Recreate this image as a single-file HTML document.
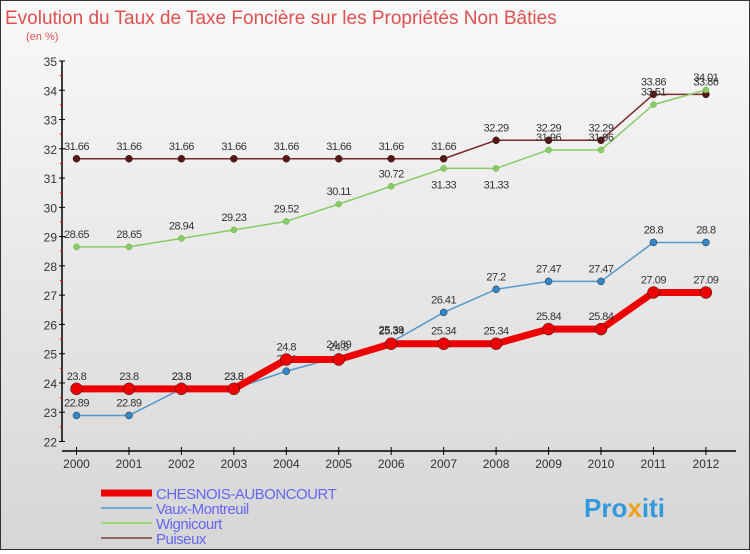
<!DOCTYPE html>
<html><head><meta charset="utf-8"><style>
body{margin:0;width:750px;height:550px;overflow:hidden}
#c{position:relative;width:748px;height:548px;border:1px solid #333;background:linear-gradient(#f9f9f9,#d6d6d6)}
svg text{font-family:"Liberation Sans",sans-serif}
</style></head><body>
<div id="c">
<svg id="s" width="748" height="548" xmlns="http://www.w3.org/2000/svg">
<text x="4" y="23" font-size="19" fill="#e05050">Evolution du Taux de Taxe Foncière sur les Propriétés Non Bâties</text>
<text x="25" y="39" font-size="11" fill="#e05050">(en %)</text>
<g id="g"></g>
<text x="583" y="516" font-size="26" font-weight="bold" fill="#3399dd">Pro<tspan fill="#f0a020">x</tspan>iti</text>
</svg></div>
<script>
const years=[2000,2001,2002,2003,2004,2005,2006,2007,2008,2009,2010,2011,2012];
const chesnois=[23.8,23.8,23.8,23.8,24.8,24.8,25.34,25.34,25.34,25.84,25.84,27.09,27.09];
const vaux=[22.89,22.89,23.8,23.8,24.4,24.89,25.39,26.41,27.2,27.47,27.47,28.8,28.8];
const wign=[28.65,28.65,28.94,29.23,29.52,30.11,30.72,31.33,31.33,31.96,31.96,33.51,34.01];
const puis=[31.66,31.66,31.66,31.66,31.66,31.66,31.66,31.66,32.29,32.29,32.29,33.86,33.86];
const yTicks=[22,23,24,25,26,27,28,29,30,31,32,33,34,35];
const names=["CHESNOIS-AUBONCOURT","Vaux-Montreuil","Wignicourt","Puiseux"];
const NS="http://www.w3.org/2000/svg",g=document.getElementById('g');
const X=i=>75.5+i*52.45, Y=v=>440.5-(v-22)*29.27;
function mk(t,a,p){const e=document.createElementNS(NS,t);for(const k in a)e.setAttribute(k,a[k]);(p||g).appendChild(e);return e;}
let ax=mk('line',{x1:61,y1:60,x2:61,y2:441,stroke:'#000','stroke-width':1.5});


yTicks.forEach(v=>{mk('line',{x1:58,x2:64,y1:Y(v),y2:Y(v),stroke:'#000'});
 if(v<35)mk('line',{x1:59,x2:62,y1:Y(v+0.5),y2:Y(v+0.5),stroke:'#e00'});
 let t=mk('text',{x:56,y:Y(v)+5,'text-anchor':'end','font-size':12,fill:'#333'});t.textContent=v;
 
 });
let xa=mk('line',{x1:61,y1:450,x2:735,y2:450,stroke:'#000','stroke-width':1.5});


years.forEach((y,i)=>{mk('line',{x1:X(i),x2:X(i),y1:446,y2:454,stroke:'#000'});
 let t=mk('text',{x:X(i),y:467,'text-anchor':'middle','font-size':12,fill:'#333'});t.textContent=y;
 
 });
const series=[[puis,'#7a2a2a','#5a1515',1.5,3.5,'puiseux'],[wign,'#88cc66','#88cc66',1.5,3,'wignicourt'],[vaux,'#5599cc','#3388cc',1.5,3.5,'vaux-montreuil'],[chesnois,'#ee0000','#ee0000',7,6,'chesnois-auboncourt']];
series.forEach(([d,c,mc,w,r,n])=>{
 let p=mk('polyline',{points:d.map((v,i)=>X(i)+','+Y(v)).join(' '),fill:'none',stroke:c,'stroke-width':w});
 
 
 d.forEach((v,i)=>{let m=mk('circle',{cx:X(i),cy:Y(v),r:r,fill:mc,stroke:n=='wignicourt'?'#66aa44':'#222','stroke-width':0.5});
  
  
  let below=(n=='wignicourt'&&(i==7||i==8));
  let t=mk('text',{x:X(i),y:below?Y(v)+20:Y(v)-9,'text-anchor':'middle','font-size':11,fill:'#333','letter-spacing':'-0.5'});t.textContent=v;
  
  });
});
const lc=['#ee0000','#6aaad8','#99dd77','#996666'],lw=[7,2,2,2];
names.forEach((n,i)=>{const y=492+i*15;
 let l=mk('line',{x1:100,x2:151,y1:y,y2:y,stroke:lc[i],'stroke-width':lw[i]});
 
 
 let t=mk('text',{x:155,y:y+6,'font-size':15,fill:'#6666ee','letter-spacing':'-0.5'});t.textContent=n;
 
 });
</script></body></html>
